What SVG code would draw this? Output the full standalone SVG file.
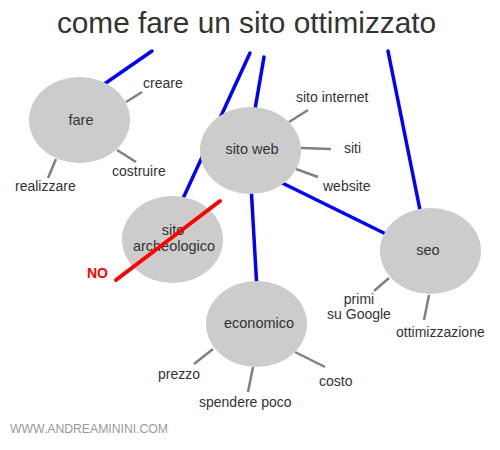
<svg xmlns="http://www.w3.org/2000/svg" width="500" height="450" viewBox="0 0 500 450">
<style>
.blue{stroke:#0000ff;stroke-width:3.5;stroke-linecap:round;fill:none}
.gray{stroke:#808080;stroke-width:2.5;fill:none}
.node{fill:#cccccc}
.nt{font-family:"Liberation Sans",Arial,sans-serif;font-size:14.5px;fill:#333333;text-anchor:middle}
.lt{font-family:"Liberation Sans",Arial,sans-serif;font-size:14px;fill:#333333}
</style>
<rect width="500" height="450" fill="#ffffff"/>
<text x="246.5" y="33" font-family="Liberation Sans,Arial,sans-serif" font-size="29.8" fill="#333333" text-anchor="middle">come fare un sito ottimizzato</text>
<g id="connectors">
<line class="blue" x1="152" y1="51" x2="100" y2="87"/>
<line class="blue" x1="250" y1="53" x2="180" y2="205"/>
<line class="blue" x1="264" y1="57" x2="254" y2="115"/>
<line class="blue" x1="388" y1="51" x2="421" y2="215"/>
<line class="blue" x1="251" y1="185" x2="257" y2="290"/>
<line class="blue" x1="268" y1="176" x2="390" y2="236"/>
<line class="gray" x1="126" y1="102" x2="142" y2="92"/>
<line class="gray" x1="117" y1="150" x2="136" y2="162"/>
<line class="gray" x1="56" y1="159" x2="48" y2="178"/>
<line class="gray" x1="289" y1="122" x2="308" y2="110"/>
<line class="gray" x1="301" y1="148" x2="331" y2="149"/>
<line class="gray" x1="296" y1="169" x2="318" y2="177"/>
<line class="gray" x1="389" y1="278" x2="374" y2="291"/>
<line class="gray" x1="429" y1="295" x2="424" y2="320"/>
<line class="gray" x1="213" y1="349" x2="194" y2="364"/>
<line class="gray" x1="253" y1="367" x2="248" y2="392"/>
<line class="gray" x1="295" y1="352" x2="325" y2="367"/>
</g>
<g id="fare">
<ellipse class="node" cx="79.5" cy="120" rx="50.5" ry="43"/>
<text class="nt" x="81" y="125">fare</text>
<text class="lt" x="143" y="88">creare</text>
<text class="lt" x="112" y="176">costruire</text>
<text class="lt" x="15" y="191">realizzare</text>
</g>
<g id="sitoweb">
<ellipse class="node" cx="250.5" cy="150.5" rx="50.5" ry="43.5"/>
<text class="nt" x="252" y="154">sito web</text>
<text class="lt" x="296" y="102">sito internet</text>
<text class="lt" x="344" y="153">siti</text>
<text class="lt" x="323" y="191">website</text>
</g>
<g id="archeologico">
<ellipse class="node" cx="172.5" cy="239.5" rx="50.5" ry="43.5"/>
<text class="nt" x="173" y="235">sito</text>
<text class="nt" x="174" y="251">archeologico</text>
<line x1="116" y1="280" x2="220" y2="201" stroke="#ff0000" stroke-width="4" stroke-linecap="round"/>
<text x="87" y="278" font-family="Liberation Sans,Arial,sans-serif" font-size="14" font-weight="bold" fill="#ff0000">NO</text>
</g>
<g id="seo">
<ellipse class="node" cx="430.5" cy="251" rx="50.5" ry="43"/>
<text class="nt" x="428" y="255">seo</text>
<text class="lt" x="359" y="304" text-anchor="middle">primi</text>
<text class="lt" x="359" y="319" text-anchor="middle">su Google</text>
<text class="lt" x="396" y="337">ottimizzazione</text>
</g>
<g id="economico">
<ellipse class="node" cx="256.5" cy="324" rx="50.5" ry="43"/>
<text class="nt" x="259" y="328">economico</text>
<text class="lt" x="158" y="379">prezzo</text>
<text class="lt" x="199" y="407">spendere poco</text>
<text class="lt" x="319" y="386">costo</text>
</g>
<text x="10" y="433" font-family="Liberation Sans,Arial,sans-serif" font-size="12" fill="#999999" textLength="158" lengthAdjust="spacingAndGlyphs">WWW.ANDREAMININI.COM</text>
</svg>
